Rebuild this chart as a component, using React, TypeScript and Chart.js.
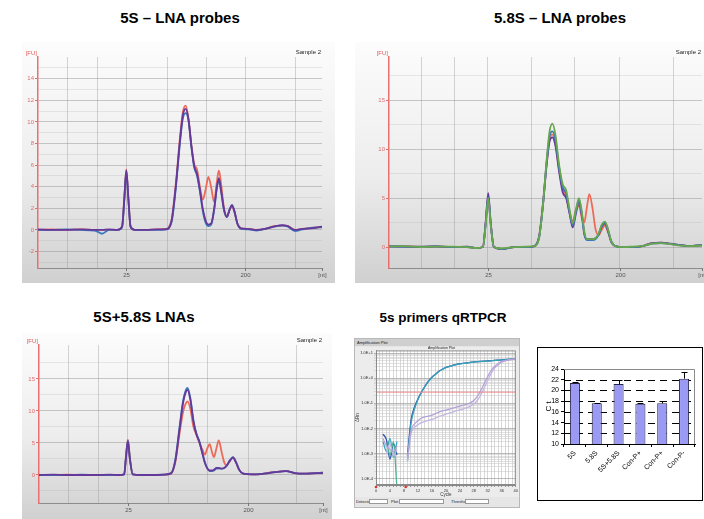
import React, { useEffect, useRef } from "react";
import { Chart, registerables } from "chart.js";
Chart.register(...registerables);

const FONT = "'Liberation Sans', Arial, sans-serif";

// ---------- Electropherogram panel 1 : 5S – LNA probes ----------
const P1_X = [0, 5, 10, 15, 20, 22.5, 25, 28, 29.6, 30.4, 31.1, 31.8, 32.6, 34, 38, 42, 45, 47, 48.5, 50, 51, 52, 53, 54, 55, 56, 57, 58, 59, 60, 61, 62, 63, 63.7, 64.5, 65.5, 66.5, 67.5, 68.3, 69.2, 70.2, 71.5, 74, 77, 80, 83, 86, 88, 90.5, 93, 96, 100];
const P1_RED = [0, 0.05, 0, 0.05, 0, 0, 0, 0, 0.3, 3.0, 5.6, 3.0, 0.3, 0, 0, 0.05, 0.1, 0.9, 4.2, 8.6, 10.9, 11.5, 10.3, 7.9, 6.1, 5.6, 4.0, 2.8, 3.7, 4.9, 3.9, 2.6, 4.5, 5.5, 4.2, 2.0, 1.3, 1.9, 2.2, 1.6, 0.6, 0.15, 0.1, 0, 0.1, 0.35, 0.4, 0.35, 0, 0.1, 0.2, 0.3];
const P1_BLUE = [0, 0, 0.05, 0, -0.05, -0.35, 0, 0, 0.25, 2.8, 5.4, 2.9, 0.3, 0, 0, 0, 0.05, 0.7, 3.8, 8.1, 10.3, 10.8, 10.1, 7.7, 5.8, 5.0, 3.6, 1.8, 0.7, 0.35, 0.5, 1.8, 3.9, 4.6, 3.5, 1.8, 1.2, 1.9, 2.3, 1.7, 0.6, 0.1, 0.05, -0.05, 0.1, 0.3, 0.4, 0.3, -0.1, 0.05, 0.2, 0.25];
const P1_PURPLE = [0.05, 0, 0, 0.05, 0, 0, 0.05, 0, 0.3, 2.9, 5.5, 3.0, 0.3, 0, 0, 0.05, 0.05, 0.8, 4.0, 8.3, 10.6, 11.2, 10.2, 7.8, 5.9, 5.2, 3.7, 2.0, 0.9, 0.5, 0.6, 1.9, 4.0, 4.8, 3.6, 1.9, 1.2, 1.9, 2.3, 1.7, 0.6, 0.15, 0.1, 0, 0.1, 0.3, 0.45, 0.35, 0, 0.1, 0.15, 0.3];
const P1_Y_MAJOR = [-2, 0, 2, 4, 6, 8, 10, 12, 14];
const P1_Y_MINOR = [-3, -1, 1, 3, 5, 7, 9, 11, 13, 15];
const P1_TICK_POS = [31.1, 72.9, 100];

// ---------- Electropherogram panel 2 : 5.8S – LNA probes ----------
const P2_X = [0, 5, 10, 15, 20, 25, 28, 30, 30.9, 31.7, 32.5, 33.5, 36, 40, 44, 46.5, 48, 49.2, 50.4, 51.3, 52.2, 53.2, 54.3, 55.5, 56.6, 57.7, 58.7, 59.7, 60.7, 61.6, 62.4, 63.2, 64, 65, 66, 67, 68, 69, 70, 71, 72.3, 75, 78, 81, 84, 87, 90, 93, 96, 100];
const P2_RED = [0.1, 0.1, 0.05, 0.1, 0, 0.05, -0.1, 0, 2.5, 5.2, 2.4, 0, -0.2, 0, 0, 0.1, 1.2, 4.5, 8.7, 11.0, 11.5, 10.5, 8.0, 6.0, 5.2, 3.5, 2.6, 3.8, 4.2, 3.0, 2.5, 4.0, 5.4, 4.0, 1.8, 1.2, 1.8, 2.2, 1.5, 0.6, 0.1, 0, 0, 0.1, 0.4, 0.45, 0.3, 0.2, 0.1, 0.2];
const P2_GREEN = [0.05, 0.1, 0, 0.05, 0.05, 0, -0.1, 0, 2.3, 5.0, 2.3, 0, -0.15, 0, 0.05, 0.1, 1.0, 4.3, 9.0, 11.8, 12.6, 11.4, 8.5, 6.4, 5.8, 3.8, 2.4, 3.8, 5.0, 3.6, 1.6, 0.8, 0.8, 0.8, 0.9, 1.4, 2.3, 2.6, 1.8, 0.6, 0.1, 0, 0.05, 0.1, 0.35, 0.4, 0.3, 0.15, 0.1, 0.15];
const P2_BLUE = [0.1, 0.05, 0.05, 0.1, 0, 0.05, -0.1, 0, 2.4, 5.1, 2.3, 0, -0.2, 0, 0, 0.1, 1.1, 4.4, 8.8, 11.3, 11.8, 10.9, 8.2, 6.1, 5.5, 3.6, 2.2, 3.6, 4.8, 3.4, 1.4, 0.7, 0.7, 0.7, 0.8, 1.3, 2.2, 2.5, 1.7, 0.6, 0.1, 0, 0, 0.1, 0.35, 0.4, 0.3, 0.2, 0.1, 0.2];
const P2_PURPLE = [0.05, 0.05, 0, 0.05, 0, 0, -0.1, 0, 2.6, 5.5, 2.5, 0, -0.2, 0, 0, 0.1, 1.1, 4.3, 8.5, 10.8, 11.2, 10.3, 7.8, 5.6, 5.0, 3.4, 2.0, 3.4, 4.6, 3.2, 1.3, 0.8, 0.8, 0.8, 0.9, 1.3, 2.1, 2.4, 1.6, 0.5, 0.1, 0, 0, 0.1, 0.4, 0.45, 0.35, 0.2, 0.1, 0.2];
const P2_Y_MAJOR = [0, 5, 10, 15];
const P2_Y_MINOR = [2.5, 7.5, 12.5, 17.5];
const P2_TICK_POS = [31.6, 73.8, 100];

// ---------- Electropherogram panel 3 : 5S+5.8S LNAs ----------
const P3_X = [0, 5, 10, 15, 20, 25, 28, 30, 30.6, 31.3, 32, 33, 36, 40, 44, 46.5, 48, 49.5, 50.7, 51.5, 52.3, 53.3, 54.4, 55.4, 56.5, 57.5, 58.4, 59.3, 60.1, 60.9, 61.6, 62.5, 63.3, 64.3, 65.2, 66, 67.2, 68.3, 69.3, 70.5, 71.9, 75, 78, 81, 84, 87, 90, 93, 96, 100];
const P3_RED = [0, 0, 0.05, 0, 0, 0, 0, 0.1, 2.8, 5.5, 2.6, 0.1, 0, 0, 0.05, 0.2, 2.0, 6.5, 9.8, 11.0, 11.5, 10.3, 7.5, 6.3, 5.0, 4.0, 3.2, 4.2, 4.8, 3.6, 2.8, 4.2, 5.4, 3.6, 2.0, 1.5, 2.2, 2.8, 2.1, 0.8, 0.2, 0.1, 0.15, 0.35, 0.5, 0.65, 0.3, 0.2, 0.25, 0.35];
const P3_BLUE = [0, 0, 0, 0.05, 0, 0, 0, 0.1, 2.7, 5.4, 2.5, 0.1, 0, 0, 0.05, 0.3, 2.4, 7.5, 11.5, 13.0, 13.6, 12.0, 8.5, 6.5, 5.2, 3.5, 2.0, 1.0, 0.6, 0.6, 0.7, 1.0, 1.0, 1.0, 1.1, 1.4, 2.3, 2.8, 2.1, 0.8, 0.2, 0.1, 0.15, 0.3, 0.5, 0.6, 0.3, 0.2, 0.25, 0.35];
const P3_PURPLE = [0, 0.05, 0, 0, 0, 0.05, 0, 0.1, 2.6, 5.3, 2.5, 0.1, 0, 0, 0.05, 0.25, 2.2, 7.2, 11.2, 12.7, 13.3, 11.7, 8.3, 6.4, 5.1, 3.4, 1.9, 1.0, 0.7, 0.7, 0.8, 1.1, 1.1, 1.0, 1.1, 1.4, 2.2, 2.7, 2.0, 0.8, 0.2, 0.1, 0.15, 0.3, 0.5, 0.6, 0.3, 0.2, 0.25, 0.3];
const P3_Y_MAJOR = [0, 5, 10, 15];
const P3_Y_MINOR = [-2.5, 2.5, 7.5, 12.5, 17.5];
const P3_TICK_POS = [31.3, 73.6, 100];

const EPH_TICK_LABELS = ["25", "200", "[nt]"];
const EPH_GRID_EXTRA = [10.5, 20.8, 45.5, 59.2, 90.8];

// ---------- Amplification plot (qRT-PCR) ----------
const CYCLES = [1, 2, 3, 4, 5, 6, 7, 8, 9, 10, 11, 12, 13, 14, 15, 16, 17, 18, 19, 20, 21, 22, 23, 24, 25, 26, 27, 28, 29, 30, 31, 32, 33, 34, 35, 36, 37, 38, 39, 40];
const AMP_A = [null, 0.006, 0.0035, 0.0006, 0.0025, 0.0009, null, null, 0.0008, 0.02, 0.07, 0.15, 0.28, 0.48, 0.76, 1.1, 1.44, 1.9, 2.3, 2.7, 3.0, 3.3, 3.55, 3.8, 3.95, 4.1, 4.3, 4.5, 4.6, 4.7, 4.8, 4.9, 5.05, 5.2, 5.3, 5.4, 5.55, 5.7, 5.8, 5.9];
const AMP_B = [null, 0.003, 0.0012, 0.004, 0.0007, 0.003, null, null, 0.0005, 0.015, 0.06, 0.14, 0.27, 0.47, 0.75, 1.08, 1.42, 1.85, 2.25, 2.65, 2.95, 3.25, 3.5, 3.75, 3.9, 4.05, 4.25, 4.45, 4.55, 4.65, 4.75, 4.85, 5.0, 5.15, 5.25, 5.35, 5.5, 5.65, 5.75, 5.85];
const AMP_C = [null, 0.004, 0.002, 0.0015, 0.0012, 0.002, null, null, 0.0006, 0.008, 0.015, 0.02, 0.026, 0.029, 0.031, 0.034, 0.039, 0.045, 0.05, 0.054, 0.059, 0.065, 0.071, 0.077, 0.085, 0.093, 0.105, 0.13, 0.19, 0.33, 0.63, 1.2, 2.1, 3.0, 3.9, 4.7, 5.1, 5.4, 5.7, 5.9];
const AMP_D = [null, null, 0.001, 0.0025, 0.0008, 0.0015, null, null, 0.0005, 0.006, 0.011, 0.014, 0.017, 0.019, 0.021, 0.023, 0.026, 0.03, 0.033, 0.037, 0.041, 0.045, 0.05, 0.055, 0.061, 0.068, 0.078, 0.095, 0.13, 0.22, 0.42, 0.85, 1.6, 2.6, 3.5, 4.3, 4.9, 5.3, 5.6, 5.85];
const AMP_G = [null, null, 0.0025, 0.0009, 0.003, 0.00004, null, null, null, null, null, null, null, null, null, null, null, null, null, null, null, null, null, null, null, null, null, null, null, null, null, null, null, null, null, null, null, null, null, null];
const AMP_THRESHOLD = 0.28;
const AMP_X_LABELS = [0, 4, 8, 12, 16, 20, 24, 28, 32, 36, 40];
const AMP_Y_MAJOR = [1e-4, 1e-3, 1e-2, 1e-1, 1, 10];
const AMP_Y_LABELS = ["1.0E-4", "1.0E-3", "1.0E-2", "1.0E-1", "1.0E+0", "1.0E+1"];

// ---------- Ct bar chart ----------
const CT_LABELS = ["5S", "5.8S", "5S+5.8S", "Con-P+", "Con-P+", "Con-P-"];
const CT_VALUES = [21.4, 17.6, 21.2, 17.5, 17.6, 22.2];
const CT_ERRORS = [0.15, 0.1, 0.8, 0.1, 0.45, 1.25];
const CT_TICKS = [10, 12, 14, 16, 18, 20, 22, 24];
const CT_DASHED = [12, 14, 16, 18, 20, 22];

const RED = "#ee6a58";
const BLUE = "#3a78bd";
const PURPLE = "#66389a";
const GREEN = "#68a84c";

const ephPlugin = {
  id: "eph",
  beforeDraw(chart: any) {
    const { ctx, width, height } = chart;
    const g = ctx.createLinearGradient(0, 0, 0, height);
    g.addColorStop(0, "#fcfcfc");
    g.addColorStop(0.55, "#ededed");
    g.addColorStop(1, "#d0d0d0");
    ctx.save();
    ctx.fillStyle = g;
    ctx.fillRect(0, 0, width, height);
    ctx.restore();
  },
  afterDraw(chart: any, _args: any, opts: any) {
    const { ctx, chartArea } = chart;
    const xs = chart.scales.x;
    ctx.save();
    ctx.font = `6px ${FONT}`;
    ctx.textBaseline = "alphabetic";
    ctx.fillStyle = "#e05a5a";
    ctx.textAlign = "right";
    ctx.fillText("[FU]", chartArea.left - 1, chartArea.top - 2);
    ctx.fillStyle = "#222";
    ctx.textAlign = "right";
    ctx.fillText("Sample 2", chartArea.right - 1, chartArea.top - 3);
    ctx.fillStyle = "#555";
    ctx.textAlign = "center";
    ctx.textBaseline = "top";
    ctx.strokeStyle = "#777";
    ctx.lineWidth = 1;
    (opts.tickPos || []).forEach((p: number, i: number) => {
      const px = Math.round(xs.getPixelForValue(p)) + 0.5;
      ctx.beginPath();
      ctx.moveTo(px, chartArea.bottom);
      ctx.lineTo(px, chartArea.bottom + 3);
      ctx.stroke();
      ctx.fillText(EPH_TICK_LABELS[i], px, chartArea.bottom + 4);
    });
    ctx.restore();
  },
};

function ephConfig(p: any): any {
  const W = p.width;
  const H = p.height;
  const grid = [...EPH_GRID_EXTRA, p.tickPos[0], p.tickPos[1]].sort((a, b) => a - b);
  const yTicks = [...p.major, ...p.minor].sort((a: number, b: number) => a - b);
  const isMajor = (v: number) => p.major.includes(v);
  return {
    type: "line",
    data: {
      datasets: p.series.map((s: any) => ({
        data: p.x.map((xv: number, i: number) => ({ x: xv, y: s.values[i] })),
        borderColor: s.color,
        borderWidth: 1.8,
        pointRadius: 0,
        fill: false,
        cubicInterpolationMode: "monotone",
      })),
    },
    options: {
      animation: false,
      responsive: false,
      events: [],
      layout: { padding: { left: 0, top: p.area.top, right: W - p.area.right, bottom: 0 } },
      plugins: { legend: { display: false }, tooltip: { enabled: false }, eph: { tickPos: p.tickPos } },
      scales: {
        x: {
          type: "linear",
          min: 0,
          max: 100,
          afterBuildTicks: (s: any) => {
            s.ticks = grid.map((v) => ({ value: v }));
          },
          afterFit: (s: any) => {
            s.height = H - p.area.bottom;
          },
          ticks: { display: false },
          grid: { color: "rgba(150,150,150,0.4)", drawTicks: false },
          border: { color: "#8c8c8c", width: 1 },
        },
        y: {
          type: "linear",
          min: p.yMin,
          max: p.yMax,
          afterBuildTicks: (s: any) => {
            s.ticks = yTicks.map((v: number) => ({ value: v }));
          },
          afterFit: (s: any) => {
            s.width = p.area.left;
          },
          ticks: {
            autoSkip: false,
            font: { size: 6, family: FONT },
            color: "#e26b6b",
            padding: 1,
            callback: (v: number) => (isMajor(v) ? String(v) : ""),
          },
          grid: {
            color: (c: any) => (c.tick && isMajor(c.tick.value) ? "rgba(140,140,140,0.45)" : "rgba(170,170,170,0.25)"),
            tickLength: 3,
            tickColor: (c: any) => (c.tick && isMajor(c.tick.value) ? "#e26b6b" : "rgba(0,0,0,0)"),
          },
          border: { color: "#ea7070", width: 1.5 },
        },
      },
    },
    plugins: [ephPlugin],
  };
}

const ampPlugin = {
  id: "amp",
  beforeDraw(chart: any) {
    const { ctx, width, height, chartArea: a } = chart;
    ctx.save();
    ctx.fillStyle = "#ececec";
    ctx.fillRect(0, 0, width, height);
    ctx.fillStyle = "#ffffff";
    ctx.fillRect(a.left, a.top, a.right - a.left, a.bottom - a.top);
    ctx.restore();
  },
  afterDraw(chart: any) {
    const { ctx, chartArea: a } = chart;
    ctx.save();
    ctx.strokeStyle = "#8a8a8a";
    ctx.lineWidth = 1;
    ctx.strokeRect(a.left + 0.5, a.top + 0.5, a.right - a.left - 1, a.bottom - a.top - 1);
    ctx.fillStyle = "#e03030";
    [0, 8.5].forEach((c) => {
      const px = chart.scales.x.getPixelForValue(c);
      ctx.beginPath();
      ctx.arc(px, a.bottom + 2, 1.3, 0, Math.PI * 2);
      ctx.fill();
    });
    ctx.restore();
  },
};

function ampConfig(): any {
  const series = [
    { v: AMP_C, c: "#b3a3d6" },
    { v: AMP_D, c: "#c4b6e0" },
    { v: AMP_G, c: "#52b494" },
    { v: AMP_B, c: "#38a2ba" },
    { v: AMP_A, c: "#2a4ea8" },
  ];
  const cycGrid: number[] = [];
  for (let c = 0; c <= 40; c++) cycGrid.push(c);
  const yTicks: number[] = [];
  AMP_Y_MAJOR.forEach((m) => {
    yTicks.push(m);
    if (m < 10) for (let k = 2; k <= 9; k++) yTicks.push(m * k);
  });
  const isMaj = (v: number) => AMP_Y_MAJOR.some((m) => Math.abs(m - v) / m < 1e-6);
  return {
    type: "line",
    data: {
      datasets: [
        {
          data: [
            { x: 0, y: AMP_THRESHOLD },
            { x: 40, y: AMP_THRESHOLD },
          ],
          borderColor: "#f08a8a",
          borderWidth: 1,
          pointRadius: 0,
        },
        ...series.map((s) => ({
          data: CYCLES.map((c, i) => ({ x: c, y: s.v[i] })),
          borderColor: s.c,
          borderWidth: 1.3,
          pointRadius: 0,
          spanGaps: false,
          cubicInterpolationMode: "monotone",
        })),
      ],
    },
    options: {
      animation: false,
      responsive: false,
      events: [],
      layout: { padding: { left: 0, top: 3, right: 1, bottom: 0 } },
      plugins: { legend: { display: false }, tooltip: { enabled: false } },
      scales: {
        x: {
          type: "linear",
          min: 0,
          max: 40,
          afterBuildTicks: (s: any) => {
            s.ticks = cycGrid.map((v) => ({ value: v }));
          },
          afterFit: (s: any) => {
            s.height = 12;
          },
          ticks: {
            autoSkip: false,
            maxRotation: 0,
            font: { size: 4, family: FONT },
            color: "#333",
            padding: 1,
            callback: (v: number) => (AMP_X_LABELS.includes(v) ? String(v) : ""),
          },
          grid: { color: "rgba(190,190,190,0.6)", tickLength: 2, tickColor: "#999" },
          border: { color: "#888" },
          title: { display: true, text: "Cycle", font: { size: 4.5, family: FONT }, color: "#333", padding: 0 },
        },
        y: {
          type: "logarithmic",
          min: 5.6e-5,
          max: 12.9,
          afterBuildTicks: (s: any) => {
            s.ticks = yTicks.map((v) => ({ value: v }));
          },
          afterFit: (s: any) => {
            s.width = 21;
          },
          ticks: {
            autoSkip: false,
            font: { size: 4, family: FONT },
            color: "#333",
            padding: 1,
            callback: (v: number) => {
              const i = AMP_Y_MAJOR.findIndex((m) => Math.abs(m - v) / m < 1e-6);
              return i >= 0 ? AMP_Y_LABELS[i] : "";
            },
          },
          grid: {
            color: (c: any) => (c.tick && isMaj(c.tick.value) ? "rgba(160,160,160,0.7)" : "rgba(200,200,200,0.55)"),
            tickLength: 2,
          },
          border: { color: "#888" },
          title: { display: true, text: "ΔRn", font: { size: 4.5, family: FONT }, color: "#333", padding: 0 },
        },
      },
    },
    plugins: [ampPlugin],
  };
}

const ctPlugin = {
  id: "ct",
  beforeDatasetsDraw(chart: any) {
    const { ctx, chartArea: a } = chart;
    const y = chart.scales.y;
    ctx.save();
    ctx.strokeStyle = "#8a8a8a";
    ctx.lineWidth = 1;
    ctx.beginPath();
    ctx.moveTo(a.left, a.top + 0.5);
    ctx.lineTo(a.right - 0.5, a.top + 0.5);
    ctx.lineTo(a.right - 0.5, a.bottom);
    ctx.stroke();
    ctx.strokeStyle = "#000";
    ctx.setLineDash([7, 5]);
    CT_DASHED.forEach((v) => {
      const py = Math.round(y.getPixelForValue(v)) + 0.5;
      ctx.beginPath();
      ctx.moveTo(a.left, py);
      ctx.lineTo(a.right, py);
      ctx.stroke();
    });
    ctx.restore();
  },
  afterDatasetsDraw(chart: any) {
    const { ctx } = chart;
    const y = chart.scales.y;
    const meta = chart.getDatasetMeta(0);
    ctx.save();
    ctx.strokeStyle = "#000";
    ctx.lineWidth = 1;
    meta.data.forEach((bar: any, i: number) => {
      const x = Math.round(bar.x) + 0.5;
      const top = Math.round(y.getPixelForValue(CT_VALUES[i] + CT_ERRORS[i])) + 0.5;
      ctx.beginPath();
      ctx.moveTo(x, bar.y);
      ctx.lineTo(x, top);
      ctx.moveTo(x - 3, top);
      ctx.lineTo(x + 3, top);
      ctx.stroke();
    });
    ctx.restore();
  },
};

function ctConfig(): any {
  return {
    type: "bar",
    data: {
      labels: CT_LABELS,
      datasets: [
        {
          data: CT_VALUES,
          backgroundColor: "#9a9af5",
          borderColor: "#222244",
          borderWidth: 1,
          barPercentage: 0.46,
          categoryPercentage: 1,
        },
      ],
    },
    options: {
      animation: false,
      responsive: false,
      events: [],
      layout: { padding: { left: 0, top: 21, right: 7, bottom: 0 } },
      plugins: { legend: { display: false }, tooltip: { enabled: false } },
      scales: {
        x: {
          afterFit: (s: any) => {
            s.height = 55;
          },
          ticks: { color: "#000", font: { size: 7, family: FONT }, minRotation: 45, maxRotation: 45, autoSkip: false, padding: 2 },
          grid: { drawOnChartArea: false, tickLength: 3, color: "#000", offset: true },
          border: { color: "#000" },
        },
        y: {
          min: 10,
          max: 24,
          afterBuildTicks: (s: any) => {
            s.ticks = CT_TICKS.map((v) => ({ value: v }));
          },
          afterFit: (s: any) => {
            s.width = 26;
          },
          ticks: { color: "#000", font: { size: 7, family: FONT }, padding: 2, autoSkip: false },
          grid: { drawOnChartArea: false, tickLength: 3, color: "#000" },
          border: { color: "#000" },
          title: { display: true, text: "C t", font: { size: 8, family: FONT }, color: "#000", padding: { top: 6, bottom: 0 } },
        },
      },
    },
    plugins: [ctPlugin],
  };
}

function ChartBox({ left, top, width, height, make }: any) {
  const ref = useRef<HTMLCanvasElement>(null);
  useEffect(() => {
    const chart = new Chart(ref.current as HTMLCanvasElement, make());
    return () => chart.destroy();
  }, []);
  return (
    <div style={{ position: "absolute", left, top, width, height }}>
      <canvas ref={ref} width={width} height={height} style={{ width, height, display: "block" }} />
    </div>
  );
}

function Title({ text, cx, cy, size }: any) {
  return (
    <div
      style={{
        position: "absolute",
        left: cx - 110,
        top: cy - 9,
        width: 220,
        height: 18,
        lineHeight: "18px",
        textAlign: "center",
        fontWeight: "bold",
        fontSize: size,
        fontFamily: FONT,
        color: "#000",
        whiteSpace: "nowrap",
      }}
    >
      {text}
    </div>
  );
}

const tiny: any = { position: "absolute", fontSize: 4, lineHeight: "5px", fontFamily: FONT, color: "#222", whiteSpace: "nowrap" };
const field: any = { position: "absolute", height: 5, background: "#fff", border: "1px solid #999", boxSizing: "border-box" };

export default function App() {
  const P1 = { width: 313, height: 241, area: { left: 16, top: 15, right: 300, bottom: 226 }, yMin: -3.52, yMax: 16.0, major: P1_Y_MAJOR, minor: P1_Y_MINOR, x: P1_X, tickPos: P1_TICK_POS, series: [{ values: P1_PURPLE, color: PURPLE }, { values: P1_BLUE, color: BLUE }, { values: P1_RED, color: RED }] };
  const P2 = { width: 349, height: 241, area: { left: 34, top: 15, right: 347, bottom: 226 }, yMin: -2.14, yMax: 19.4, major: P2_Y_MAJOR, minor: P2_Y_MINOR, x: P2_X, tickPos: P2_TICK_POS, series: [{ values: P2_GREEN, color: GREEN }, { values: P2_BLUE, color: BLUE }, { values: P2_PURPLE, color: PURPLE }, { values: P2_RED, color: RED }] };
  const P3 = { width: 310, height: 186, area: { left: 17, top: 12, right: 301, bottom: 170 }, yMin: -4.375, yMax: 20.3, major: P3_Y_MAJOR, minor: P3_Y_MINOR, x: P3_X, tickPos: P3_TICK_POS, series: [{ values: P3_PURPLE, color: PURPLE }, { values: P3_BLUE, color: BLUE }, { values: P3_RED, color: RED }] };
  return (
    <div style={{ position: "absolute", left: 0, top: 0, width: 704, height: 519, background: "#fff", overflow: "hidden", fontFamily: FONT }}>
      <Title text="5S – LNA probes" cx={180} cy={18} size={15} />
      <Title text="5.8S – LNA probes" cx={560} cy={18} size={15} />
      <Title text="5S+5.8S LNAs" cx={144} cy={317} size={15} />
      <Title text="5s primers qRTPCR" cx={443} cy={318} size={13.5} />

      <ChartBox left={22} top={42} width={P1.width} height={P1.height} make={() => ephConfig(P1)} />
      <ChartBox left={355} top={42} width={P2.width} height={P2.height} make={() => ephConfig(P2)} />
      <ChartBox left={22} top={333} width={P3.width} height={P3.height} make={() => ephConfig(P3)} />

      {/* amplification plot window */}
      <div style={{ position: "absolute", left: 354, top: 338, width: 166, height: 170, background: "#e6e6e6", border: "1px solid #b8b8b8", boxSizing: "border-box" }} />
      <div style={{ position: "absolute", left: 355, top: 339, width: 164, height: 7, background: "#cfcfcf" }} />
      <div style={{ ...tiny, left: 357, top: 340 }}>Amplification Plot</div>
      <ChartBox left={355} top={347} width={164} height={150} make={ampConfig} />
      <div style={{ ...tiny, left: 428, top: 346, fontSize: 3.5 }}>Amplification Plot</div>
      <div style={{ ...tiny, left: 356, top: 499 }}>Detector:</div>
      <div style={{ ...field, left: 369, top: 499, width: 19 }} />
      <div style={{ ...tiny, left: 391, top: 499 }}>Plot:</div>
      <div style={{ ...field, left: 399, top: 499, width: 45 }} />
      <div style={{ ...tiny, left: 451, top: 499 }}>Threshold:</div>
      <div style={{ ...field, left: 465, top: 499, width: 24 }} />

      {/* Ct bar chart box */}
      <div style={{ position: "absolute", left: 537, top: 347, width: 166, height: 154, border: "1px solid #000", boxSizing: "border-box", background: "#fff" }} />
      <ChartBox left={538} top={348} width={164} height={151} make={ctConfig} />
    </div>
  );
}
